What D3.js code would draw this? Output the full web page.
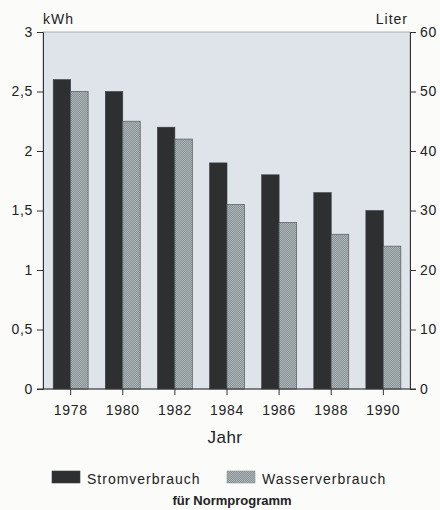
<!DOCTYPE html>
<html>
<head>
<meta charset="utf-8">
<script src="https://cdn.jsdelivr.net/npm/d3@7"></script>
<style>
	body { margin: 0; background: #fbfbfa; }
	text { font-family: 'Liberation Sans', Arial, sans-serif; fill: #222; }
</style>
</head>
<body>
<div class="chart"></div>
<script>

// Jahre
var years = ['1978', '1980', '1982', '1984', '1986', '1988', '1990'];

// Stromverbrauch in kWh
var strom = [2.6, 2.5, 2.2, 1.9, 1.8, 1.65, 1.5];

// Wasserverbrauch in Liter
var wasser = [50, 45, 42, 31, 28, 26, 24];

var kwhTicks = [0, 0.5, 1, 1.5, 2, 2.5, 3];
var literTicks = [0, 10, 20, 30, 40, 50, 60];

var seriesNames = ['Stromverbrauch', 'Wasserverbrauch'];

var svg = d3.select('.chart')
	.append('svg')
	.attr('width', 440)
	.attr('height', 510);

var defs = svg.append('defs');

var hatch = defs.append('pattern')
	.attr('id', 'hatch')
	.attr('patternUnits', 'userSpaceOnUse')
	.attr('width', 2)
	.attr('height', 2);

hatch.append('rect')
	.attr('width', 2)
	.attr('height', 2)
	.attr('fill', '#aab3b6');

hatch.append('path')
	.attr('d', 'M0,2 L2,0 M-1,1 L1,-1 M1,3 L3,1')
	.attr('stroke', '#7c8689')
	.attr('stroke-width', 0.7);

var plotLeft = 43, plotRight = 410, plotTop = 32, plotBottom = 389;

var x = d3.scaleBand()
	.domain(years)
	.range([44.6, 409.4])
	.paddingInner(0.33)
	.paddingOuter(0.165);

var xs = d3.scaleBand()
	.domain(seriesNames)
	.range([0, x.bandwidth()]);

var yL = d3.scaleLinear().domain([0, 3]).range([plotBottom, plotTop]);
var yR = d3.scaleLinear().domain([0, 60]).range([plotBottom, plotTop]);

function komma(d){ return String(d).replace('.', ','); }

// Hintergrund
svg.append('rect')
	.attr('x', plotLeft)
	.attr('y', plotTop)
	.attr('width', plotRight - plotLeft)
	.attr('height', plotBottom - plotTop)
	.attr('fill', '#dfe4ea')
	.attr('stroke', '#9aa0a4')
	.attr('stroke-width', 0.8);

var rows = years.map(function(d, i){ return {year: d, strom: strom[i], wasser: wasser[i]}; });

svg.append('g').selectAll('rect')
	.data(rows)
	.enter().append('rect')
	.attr('x', function(d){ return x(d.year) + xs('Stromverbrauch'); })
	.attr('y', function(d){ return yL(d.strom); })
	.attr('width', xs.bandwidth())
	.attr('height', function(d){ return yL(0) - yL(d.strom); })
	.attr('fill', '#2d2f31')
	.attr('stroke', '#3a3c3e')
	.attr('stroke-width', 0.6);

svg.append('g').selectAll('rect')
	.data(rows)
	.enter().append('rect')
	.attr('x', function(d){ return x(d.year) + xs('Wasserverbrauch'); })
	.attr('y', function(d){ return yR(d.wasser); })
	.attr('width', xs.bandwidth())
	.attr('height', function(d){ return yR(0) - yR(d.wasser); })
	.attr('fill', 'url(#hatch)')
	.attr('stroke', '#5b6467')
	.attr('stroke-width', 0.8);

// Achsen
var axisL = svg.append('g')
	.attr('transform', 'translate(' + plotLeft + ',0)')
	.call(d3.axisLeft(yL).tickValues(kwhTicks).tickFormat(komma).tickSize(6).tickPadding(4));

var axisR = svg.append('g')
	.attr('transform', 'translate(' + plotRight + ',0)')
	.call(d3.axisRight(yR).tickValues(literTicks).tickSize(6).tickPadding(4));

var axisB = svg.append('g')
	.attr('transform', 'translate(0,' + plotBottom + ')')
	.call(d3.axisBottom(x).tickSize(6).tickPadding(10).tickSizeOuter(0));

axisB.select('.domain')
	.attr('d', 'M' + (plotLeft - 6) + ',0H' + (plotRight + 6));

[axisL, axisR, axisB].forEach(function(a){
	a.selectAll('line, .domain').attr('stroke', '#333').attr('stroke-width', 1);
	a.selectAll('text')
		.style('font-size', '14px')
		.style('letter-spacing', '0.7px')
		.attr('fill', '#222');
});

// Einheiten
svg.append('text')
	.attr('x', 43)
	.attr('y', 24)
	.style('font-size', '14px')
	.style('letter-spacing', '1px')
	.text('kWh');

svg.append('text')
	.attr('x', 408)
	.attr('y', 24)
	.style('text-anchor', 'end')
	.style('font-size', '14px')
	.style('letter-spacing', '1px')
	.text('Liter');

svg.append('text')
	.attr('x', 225)
	.attr('y', 443)
	.style('text-anchor', 'middle')
	.style('font-size', '17px')
	.style('letter-spacing', '0.5px')
	.text('Jahr');

// Legende
var legendX = [52, 227];

var legend = svg.selectAll('.legend')
	.data(seriesNames)
	.enter().append('g')
	.attr('class', 'legend')
	.attr('transform', function(d, i){ return 'translate(' + legendX[i] + ',' + 471 + ')'; });

legend.append('rect')
	.attr('width', 28)
	.attr('height', 12)
	.attr('fill', function(d, i){ return i == 0 ? '#2d2f31' : 'url(#hatch)'; })
	.attr('stroke', function(d, i){ return i == 0 ? '#3a3c3e' : '#8a9396'; })
	.attr('stroke-width', 0.6);

legend.append('text')
	.attr('x', 35)
	.attr('y', 13)
	.style('font-size', '14px')
	.style('letter-spacing', '1px')
	.text(function(d){ return d; });

svg.append('text')
	.attr('x', 232)
	.attr('y', 505)
	.style('text-anchor', 'middle')
	.style('font-size', '13px')
	.style('font-weight', 'bold')
	.text('für Normprogramm');

</script>
</body>
</html>
